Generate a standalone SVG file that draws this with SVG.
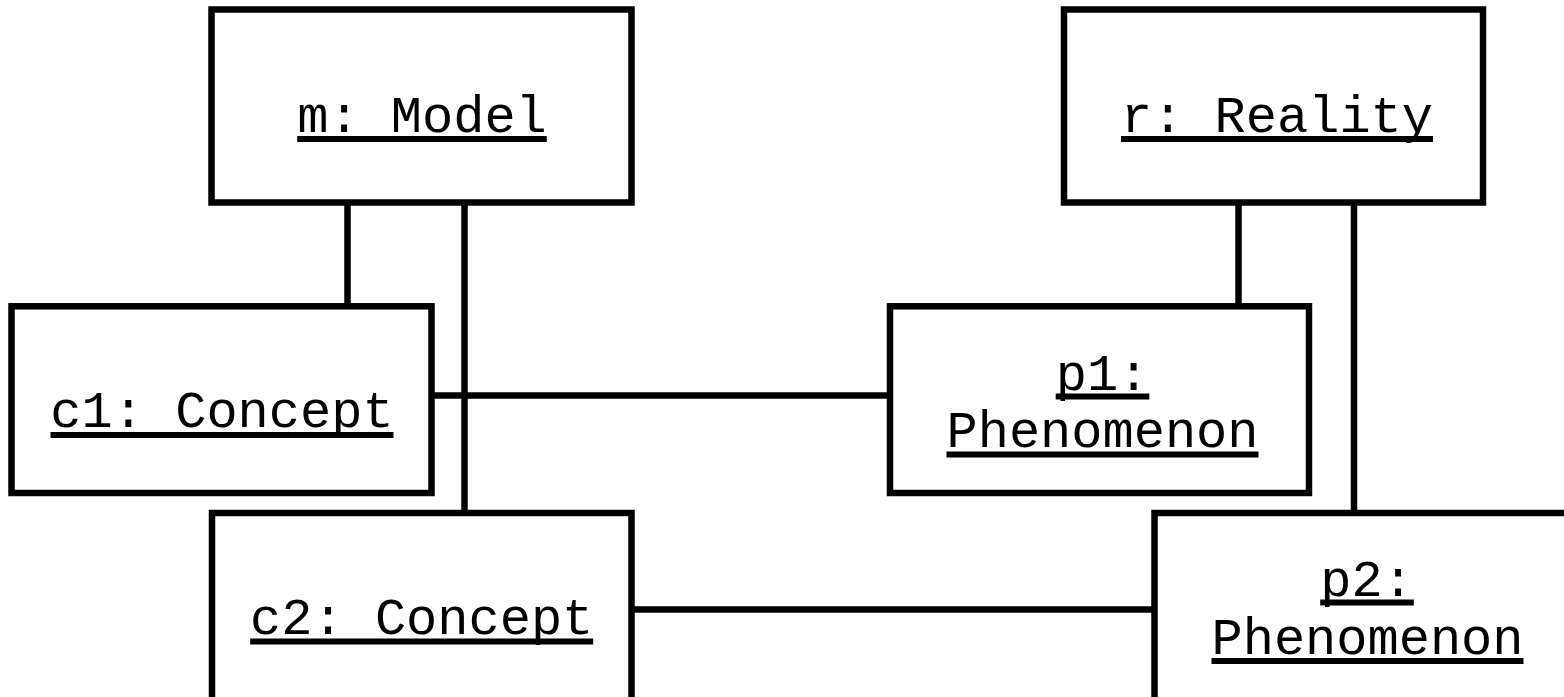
<svg xmlns="http://www.w3.org/2000/svg" width="1564" height="697" viewBox="0 0 1564 697">
  <style>
    .box { fill: #ffffff; stroke: #000000; stroke-width: 6.5; }
    .link { stroke: #000000; stroke-width: 6.5; fill: none; }
    .label { font-family: "Liberation Mono", "Courier New", monospace; font-size: 52px; fill: #000000; text-anchor: middle; }
    .ul { stroke: #000000; stroke-width: 6; }
  </style>
  <rect width="1564" height="697" fill="#ffffff"/>

  <!-- associations between objects -->
  <g id="connectors">
    <line class="link" x1="347.5" y1="205" x2="347.5" y2="304"/>
    <line class="link" x1="464.5" y1="205" x2="464.5" y2="511"/>
    <line class="link" x1="1238.5" y1="205" x2="1238.5" y2="304"/>
    <line class="link" x1="1354" y1="205" x2="1354" y2="511"/>
    <line class="link" x1="433" y1="395.5" x2="888" y2="395.5"/>
    <line class="link" x1="633" y1="609.5" x2="1152" y2="609.5"/>
  </g>

  <g id="m-model">
    <rect class="box" x="211.5" y="9.5" width="420" height="193"/>
    <text class="label" x="422" y="132">m: Model</text>
    <line class="ul" x1="297.2" y1="139" x2="546.8" y2="139"/>
  </g>

  <g id="r-reality">
    <rect class="box" x="1064" y="9.5" width="419" height="193"/>
    <text class="label" x="1277" y="132">r: Reality</text>
    <line class="ul" x1="1121" y1="139" x2="1433" y2="139"/>
  </g>

  <g id="c1-concept">
    <rect class="box" x="11.5" y="306.3" width="420" height="186.7"/>
    <text class="label" x="222" y="427">c1: Concept</text>
    <line class="ul" x1="50.5" y1="435" x2="393.5" y2="435"/>
  </g>

  <g id="p1-phenomenon">
    <rect class="box" x="890" y="306.3" width="419" height="186.7"/>
    <text class="label" x="1102.5" y="389.5">p1:</text>
    <line class="ul" x1="1055.7" y1="396.5" x2="1149.3" y2="396.5"/>
    <text class="label" x="1102.5" y="447">Phenomenon</text>
    <line class="ul" x1="946.5" y1="454.5" x2="1258.5" y2="454.5"/>
  </g>

  <g id="c2-concept">
    <rect class="box" x="212" y="513" width="419.5" height="190"/>
    <text class="label" x="421.7" y="633.5">c2: Concept</text>
    <line class="ul" x1="250.2" y1="641.5" x2="593.2" y2="641.5"/>
  </g>

  <g id="p2-phenomenon">
    <rect class="box" x="1154.5" y="513" width="420" height="190"/>
    <text class="label" x="1367" y="595.5">p2:</text>
    <line class="ul" x1="1320.2" y1="602.5" x2="1413.8" y2="602.5"/>
    <text class="label" x="1367.5" y="653.5">Phenomenon</text>
    <line class="ul" x1="1211.5" y1="661" x2="1523.5" y2="661"/>
  </g>
</svg>
